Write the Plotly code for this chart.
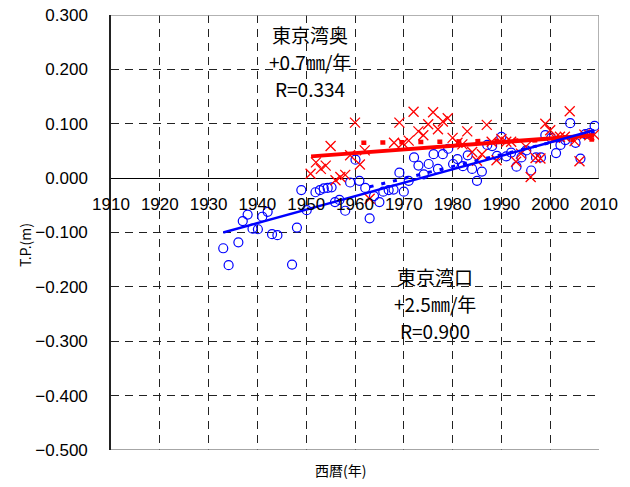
import plotly.graph_objects as go

# 東京湾口 (blue circles)
blue_year = [1933.0, 1934.1, 1936.1, 1937.0, 1938.0, 1939.0, 1940.1, 1941.0, 1942.1, 1943.0,
             1944.1, 1947.1, 1948.1, 1949.0, 1950.1, 1951.9, 1952.8, 1953.6, 1954.4, 1955.2,
             1955.9, 1956.8, 1958.0, 1959.0, 1960.1, 1960.9, 1962.1, 1963.0, 1963.9, 1965.0,
             1965.8, 1966.9, 1967.9, 1969.1, 1970.0, 1971.0, 1972.1, 1973.0, 1974.1, 1975.1,
             1976.1, 1977.0, 1978.0, 1979.1, 1980.1, 1981.0, 1982.1, 1983.1, 1984.0, 1985.0,
             1986.0, 1987.1, 1988.1, 1989.1, 1990.0, 1991.0, 1992.0, 1993.1, 1994.1, 1995.1,
             1996.1, 1997.1, 1998.1, 1999.0, 2000.2, 2001.2, 2002.1, 2003.1, 2004.1, 2005.2,
             2006.2, 2007.2, 2008.1, 2009.1]
blue_tp = [-0.129, -0.160, -0.118, -0.079, -0.067, -0.093, -0.094, -0.071, -0.062, -0.103,
           -0.105, -0.159, -0.091, -0.022, -0.059, -0.026, -0.022, -0.019, -0.018, -0.017,
           -0.044, -0.040, -0.060, -0.008, 0.034, -0.005, -0.018, -0.074, -0.033, -0.044,
           -0.025, -0.022, -0.021, 0.010, -0.025, -0.005, 0.038, 0.023, 0.007, 0.026,
           0.044, 0.017, 0.044, 0.054, 0.026, 0.035, 0.022, 0.042, 0.017, -0.005,
           0.012, 0.061, 0.059, 0.041, 0.076, 0.040, 0.047, 0.021, 0.038, 0.051,
           0.014, 0.038, 0.038, 0.079, 0.074, 0.046, 0.061, 0.070, 0.101, 0.065,
           0.036, 0.081, 0.083, 0.096]

# 東京湾奥 (red crosses)
red_year = [1950.9, 1952.0, 1953.0, 1954.0, 1955.0, 1956.0, 1957.0, 1958.0, 1959.0, 1960.0,
            1961.0, 1962.0, 1963.0, 1968.0, 1969.1, 1969.8, 1971.0, 1972.0, 1973.0, 1974.0,
            1975.0, 1976.0, 1977.0, 1978.0, 1979.0, 1980.0, 1981.0, 1982.0, 1983.0, 1984.0,
            1985.0, 1986.0, 1987.0, 1988.0, 1989.0, 1990.0, 1991.0, 1992.0, 1993.0, 1994.0,
            1995.0, 1996.0, 1997.0, 1998.0, 1999.0, 2000.0, 2001.0, 2002.0, 2003.0, 2004.0,
            2005.0, 2006.0, 2007.0, 2008.0, 2009.0]
red_tp = [0.008, 0.029, 0.017, 0.023, 0.059, -0.004, 0.002, 0.006, 0.042, 0.102,
          0.025, 0.051, -0.038, 0.065, 0.102, 0.064, 0.069, 0.122, 0.086, 0.079,
          0.099, 0.121, 0.090, 0.104, 0.110, 0.074, 0.065, 0.062, 0.086, 0.048,
          0.032, 0.044, 0.098, 0.067, 0.033, 0.072, 0.067, 0.067, 0.030, 0.045,
          0.058, 0.002, 0.037, 0.036, 0.100, 0.088, 0.074, 0.076, 0.076, 0.123,
          0.068, 0.031, 0.080, 0.079, 0.080]

# trend lines
red_trend_x = [1951, 2009]
red_trend_y = [0.040, 0.079]
red_dash_x = [1961.3, 2009]
red_dash_y = [0.065, 0.071]
blue_trend_x = [1933, 2009]
blue_trend_y = [-0.100, 0.088]
blue_dash_x = [1963, 2009]
blue_dash_y = [-0.016, 0.085]

x_ticks = list(range(1910, 2011, 10))
y_ticks = [0.3, 0.2, 0.1, 0.0, -0.1, -0.2, -0.3, -0.4, -0.5]

# text labels
bay_inner = ['東京湾奥', '+0.7㎜/年', 'R=0.334']
bay_mouth = ['東京湾口', '+2.5㎜/年', 'R=0.900']

fig = go.Figure()
fig.add_trace(go.Scatter(x=blue_year, y=blue_tp, mode='markers',
                         marker=dict(symbol='circle-open', size=9, color='#0000ff',
                                     line=dict(width=1.2, color='#0000ff'))))
fig.add_trace(go.Scatter(x=red_year, y=red_tp, mode='markers',
                         marker=dict(symbol='x-thin-open', size=10, color='#ff0000',
                                     line=dict(width=1.3, color='#ff0000'))))
fig.add_trace(go.Scatter(x=red_dash_x, y=red_dash_y, mode='lines',
                         line=dict(color='#ff0000', width=4.5, dash='5px,14px')))
fig.add_trace(go.Scatter(x=blue_dash_x, y=blue_dash_y, mode='lines',
                         line=dict(color='#0000ff', width=3, dash='4px,8px')))
fig.add_trace(go.Scatter(x=red_trend_x, y=red_trend_y, mode='lines',
                         line=dict(color='#ff0000', width=4)))
fig.add_trace(go.Scatter(x=blue_trend_x, y=blue_trend_y, mode='lines',
                         line=dict(color='#0000ff', width=2.5)))

tickfont = dict(family='Liberation Sans, Arial', size=17, color='black')

fig.update_layout(
    width=630, height=487,
    margin=dict(l=111, r=31, t=15, b=37, autoexpand=False),
    showlegend=False,
    plot_bgcolor='white', paper_bgcolor='white',
)
fig.update_xaxes(range=[1910, 2010], tickvals=x_ticks, ticktext=[str(v) for v in x_ticks],
                 showgrid=True, gridcolor='#222', gridwidth=1, griddash='8px,6px',
                 anchor='free', position=0.625, showline=False, zeroline=False,
                 ticks='', tickfont=tickfont, ticklabelstandoff=14,
                 ticklabeloverflow='allow', automargin=False)
fig.update_yaxes(range=[-0.5, 0.3], tickvals=y_ticks, tickformat='.3f',
                 showgrid=True, gridcolor='#222', gridwidth=1, griddash='8px,6px',
                 zeroline=True, zerolinecolor='black', zerolinewidth=1,
                 showline=True, linecolor='#222', linewidth=1.5,
                 ticks='', tickfont=tickfont, ticklabelstandoff=18,
                 ticklabeloverflow='allow', automargin=False)

# plot-area borders
fig.add_shape(type='line', xref='x', yref='y', x0=1910, x1=2010, y0=0.3, y1=0.3,
              line=dict(color='#999', width=1.5), layer='between')
fig.add_shape(type='line', xref='x', yref='y', x0=1910, x1=2010, y0=-0.5, y1=-0.5,
              line=dict(color='#888', width=1.5), layer='between')
fig.add_shape(type='line', xref='x', yref='y', x0=2010, x1=2010, y0=0.0, y1=0.3,
              line=dict(color='#999', width=1.5), layer='between')

cjk = dict(family='Noto Sans CJK JP', size=19, color='black')
inner_y = [0.2647, 0.2151, 0.1654]
mouth_y = [-0.1801, -0.2298, -0.2794]
for txt, ny in zip(bay_inner, inner_y):
    fig.add_annotation(x=1950.8, y=ny, xref='x', yref='y', text=txt, showarrow=False,
                       font=cjk, xanchor='center', yanchor='middle', borderpad=0)
for txt, ny in zip(bay_mouth, mouth_y):
    fig.add_annotation(x=1976.4, y=ny, xref='x', yref='y', text=txt, showarrow=False,
                       font=cjk, xanchor='center', yanchor='middle', borderpad=0)

fig.add_annotation(x=(340 - 111) / 488, y=(450 - 470) / 435, xref='paper', yref='paper',
                   text='西暦(年)', showarrow=False, xanchor='center', yanchor='middle',
                   font=dict(family='Noto Sans CJK JP', size=14, color='black'))
fig.add_annotation(x=(25 - 111) / 488, y=(450 - 245) / 435, xref='paper', yref='paper',
                   text='T.P.(m)', showarrow=False, textangle=-90, xanchor='center',
                   yanchor='middle', font=dict(family='Noto Sans CJK JP', size=14, color='black'))

fig.write_html('out.html',
               config={'displayModeBar': False},
               post_script="document.body.style.margin='0';document.body.style.overflow='hidden';")
